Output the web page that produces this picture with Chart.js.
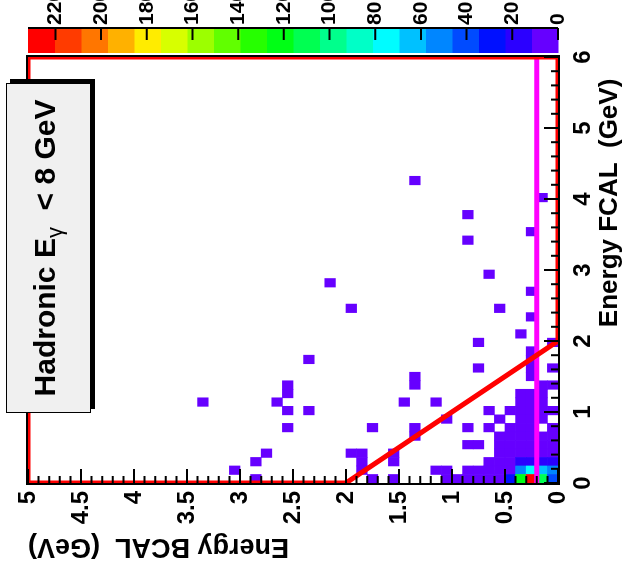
<!DOCTYPE html>
<html>
<head>
<meta charset="utf-8">
<title>Hadronic E gamma &lt; 8 GeV</title>
<script src="https://cdn.jsdelivr.net/npm/chart.js@4.4.1/dist/chart.umd.min.js"></script>
<style>
  html, body { margin: 0; padding: 0; background: #ffffff; }
  #page { position: relative; width: 625px; height: 570px; overflow: hidden; }
  /* plot is drawn upright, then the canvas is turned a quarter turn like the original figure */
  #bcalFcal { position: absolute; left: 0; top: 0; transform-origin: 0 0; transform: translate(0px, 570px) rotate(-90deg); }
</style>
</head>
<body>
<div id="page"><canvas id="bcalFcal" width="570" height="625"></canvas></div>
<script>
// ##################### DATA ##################

// BCAL bin lower edge (GeV) of every occupied column
const columnBcal = [3.3, 3.0, 2.8, 2.7, 2.6, 2.5, 2.3, 2.1, 1.9, 1.8, 1.7, 1.5, 1.4, 1.3, 1.1, 1.0, 0.9, 0.8, 0.7, 0.6, 0.5, 0.4, 0.3, 0.2, 0.1, 0.0];

// FCAL bin lower edges (GeV) of the filled cells in each column
const columnFcal = [
  [1.08],
  [0.12],
  [0.24, 0],
  [0.36],
  [1.08],
  [1.32, 1.2, 0.96, 0.72],
  [1.68, 0.96],
  [2.76],
  [2.4, 0.36],
  [0.36, 0.24, 0.12],
  [0.72, 0],
  [0.36, 0.24, 0],
  [1.08],
  [4.2, 1.44, 1.32, 0.72, 0.6],
  [1.08, 0.12],
  [0.84, 0.12, 0],
  [0],
  [3.72, 3.36, 0.72, 0.48, 0.12, 0],
  [1.92, 1.56, 0.48, 0.12, 0],
  [2.88, 0.96, 0.72, 0.24, 0.12, 0],
  [2.4, 0.84, 0.6, 0.48, 0.36, 0.24, 0.12, 0],
  [0.96, 0.72, 0.6, 0.48, 0.36, 0.24, 0.12, 0],
  [2.04, 1.2, 1.08, 0.96, 0.84, 0.72, 0.6, 0.48, 0.36, 0.24, 0.12, 0],
  [3.48, 2.64, 2.28, 1.8, 1.68, 1.56, 1.44, 1.2, 1.08, 0.96, 0.84, 0.72, 0.6, 0.48, 0.36, 0.24, 0.12, 0],
  [3.96, 1.32, 1.2, 1.08, 0.96, 0.84, 0.6, 0.48, 0.36, 0.24, 0.12, 0],
  [1.92, 1.56, 1.32, 0.96, 0.72, 0.6, 0.48, 0.36, 0.24, 0.12, 0]
];

// entries per cell, same layout as columnFcal
const columnCounts = [
  [1],
  [1],
  [1, 1],
  [1],
  [1],
  [1, 1, 1, 1],
  [1, 1],
  [1],
  [1, 1],
  [1, 1, 1],
  [1, 1],
  [1, 1, 1],
  [1],
  [1, 1, 1, 1, 1],
  [1, 1],
  [1, 2, 2],
  [2],
  [1, 1, 1, 1, 2, 3],
  [1, 1, 1, 3, 3],
  [1, 1, 1, 2, 3, 4],
  [1, 1, 1, 2, 2, 3, 4, 6],
  [1, 1, 2, 2, 2, 6, 8, 28],
  [1, 3, 3, 4, 4, 5, 5, 6, 8, 18, 52, 120],
  [1, 1, 1, 2, 2, 2, 2, 3, 3, 4, 4, 5, 6, 7, 9, 20, 75, 225],
  [1, 2, 2, 2, 3, 3, 4, 5, 7, 16, 64, 110],
  [1, 1, 2, 1, 2, 2, 3, 4, 15, 50, 40]
];

const bcalBinWidth = 0.1;
const fcalBinWidth = 0.12;

// colour scale
const zMax = 232;
const nLevels = 20;

// red cut contour (BCAL + FCAL > 2 GeV region) and magenta BCAL line
const cutFcal = [0, 0, 2, 6, 6, 0];
const cutBcal = [5, 2, 0, 0, 5, 5];
const vetoFcal = [0, 6];
const vetoBcal = [0.2, 0.2];

// ##################### CHART ##################

Chart.defaults.font.family = "'Liberation Sans', Arial, Helvetica, sans-serif";
Chart.defaults.font.weight = "bold";
Chart.defaults.color = "#000";

function levelColor(k) {
    return `hsl(${264 - k * 264 / (nLevels - 1)}, 100%, 50%)`;
}

function binColor(n) {
    return levelColor(Math.min(nLevels - 1, Math.floor(n * nLevels / zMax)));
}

const cells = [];
columnBcal.forEach((b, c) => {
    columnFcal[c].forEach((f, k) => {
        cells.push({ y: b + bcalBinWidth / 2, x: [f, f + fcalBinWidth], n: columnCounts[c][k] });
    });
});

// keep the frame where the layout padding puts it
function noLabelPadding(s) {
    s.paddingTop = 0;
    s.paddingBottom = 0;
    s.paddingLeft = 0;
    s.paddingRight = 0;
}

// ROOT style ticks pointing into the frame, plus the frame itself
const rootTicks = {
    id: "rootTicks",
    afterDatasetsDraw(chart) {
        const { ctx, chartArea: a, scales } = chart;
        ctx.save();
        ctx.strokeStyle = "#000";
        ctx.lineWidth = 2;
        ctx.beginPath();
        for (let k = 0; k <= 30; k++) {
            const px = scales.x.getPixelForValue(k * 0.2);
            ctx.moveTo(px, a.bottom);
            ctx.lineTo(px, a.bottom - (k % 5 === 0 ? 14 : 7));
        }
        for (let k = 0; k <= 50; k++) {
            const py = scales.y.getPixelForValue(k * 0.1);
            ctx.moveTo(a.left, py);
            ctx.lineTo(a.left + (k % 5 === 0 ? 14 : 7), py);
        }
        ctx.stroke();
        ctx.strokeRect(a.left - 1, a.top - 1, a.width + 2, a.height + 2);
        ctx.restore();
    }
};

// colour palette next to the frame, on the z scale
const colorBar = {
    id: "colorBar",
    afterDraw(chart) {
        const { ctx, scales: { z } } = chart;
        const left = z.left + 4, w = 25;
        ctx.save();
        for (let k = 0; k < nLevels; k++) {
            const p0 = z.getPixelForValue(k * zMax / nLevels);
            const p1 = z.getPixelForValue((k + 1) * zMax / nLevels);
            ctx.fillStyle = levelColor(k);
            ctx.fillRect(left, p1, w, p0 - p1 + 0.5);
        }
        ctx.strokeStyle = "#000";
        ctx.lineWidth = 2;
        ctx.beginPath();
        ctx.moveTo(left + w, z.top);
        ctx.lineTo(left + w, z.bottom);
        z.ticks.forEach(t => {
            const p = z.getPixelForValue(t.value);
            ctx.moveTo(left + w, p);
            ctx.lineTo(left + w - 12, p);
        });
        ctx.stroke();
        ctx.restore();
    }
};

// label box with drop shadow
const titleBox = {
    id: "titleBox",
    afterDraw(chart) {
        const ctx = chart.ctx;
        const bx = 157, by = 6, bw = 330, bh = 85;
        ctx.save();
        ctx.fillStyle = "#000";
        ctx.fillRect(bx + 4, by + 4, bw, bh);
        ctx.fillStyle = "#f0f0f0";
        ctx.fillRect(bx, by, bw, bh);
        ctx.strokeStyle = "#000";
        ctx.lineWidth = 1;
        ctx.strokeRect(bx + 0.5, by + 0.5, bw - 1, bh - 1);

        const big = "bold 30px 'Liberation Sans', Arial, sans-serif";
        const small = "22px 'Liberation Sans', Arial, sans-serif";
        const head = "Hadronic E", sub = "\u03b3", tail = "  < 8 GeV";
        ctx.font = big;
        const w1 = ctx.measureText(head).width, w3 = ctx.measureText(tail).width;
        ctx.font = small;
        const w2 = ctx.measureText(sub).width;
        let x = bx + (bw - w1 - w2 - w3) / 2;
        const y = by + bh / 2 - 2;
        ctx.fillStyle = "#000";
        ctx.textBaseline = "middle";
        ctx.font = big;
        ctx.fillText(head, x, y);
        x += w1;
        ctx.font = small;
        ctx.fillText(sub, x, y + 9);
        x += w2;
        ctx.font = big;
        ctx.fillText(tail, x, y);
        ctx.restore();
    }
};

new Chart(document.getElementById("bcalFcal"), {
    type: "bar",
    data: {
        datasets: [
            {
                type: "line", label: "cut",
                data: cutFcal.map((f, i) => ({ x: f, y: cutBcal[i] })),
                borderColor: "#ff0000", borderWidth: 5, pointRadius: 0, clip: 0, order: 0,
                xAxisID: "x", yAxisID: "y"
            },
            {
                type: "line", label: "BCAL line",
                data: vetoFcal.map((f, i) => ({ x: f, y: vetoBcal[i] })),
                borderColor: "#ff00ff", borderWidth: 5, pointRadius: 0, clip: 0, order: 1,
                xAxisID: "x", yAxisID: "y"
            },
            {
                type: "bar", label: "events",
                data: cells,
                backgroundColor: c => binColor(c.raw.n),
                borderWidth: 0, barPercentage: 1, categoryPercentage: 1, order: 2,
                xAxisID: "x", yAxisID: "y"
            }
        ]
    },
    options: {
        indexAxis: "y",
        responsive: false,
        animation: false,
        devicePixelRatio: 1,
        events: [],
        layout: { padding: { left: 0, right: 0, top: 28, bottom: 0 } },
        plugins: { legend: { display: false }, tooltip: { enabled: false } },
        scales: {
            x: {
                type: "linear", position: "bottom", min: 0, max: 6, offset: false,
                grid: { display: false, drawTicks: false }, border: { display: false },
                ticks: { stepSize: 1, padding: 11, maxRotation: 0, font: { size: 24 }, callback: v => String(v) },
                title: { display: true, text: "Energy FCAL  (GeV)   ", align: "end", font: { size: 26 }, padding: { top: 0, bottom: 0 } },
                afterFit: s => { s.height = 67; noLabelPadding(s); }
            },
            y: {
                type: "linear", position: "left", min: 0, max: 5, offset: false,
                grid: { display: false, drawTicks: false, offset: false }, border: { display: false },
                ticks: { stepSize: 0.5, padding: 8, autoSkip: false, font: { size: 24 }, callback: v => String(v) },
                title: { display: true, text: "Energy BCAL  (GeV)", align: "end", font: { size: 27 }, padding: { top: 7, bottom: 0 } },
                afterFit: s => { s.width = 87; noLabelPadding(s); }
            },
            z: {
                type: "linear", axis: "y", position: "right", min: 0, max: zMax, offset: false,
                grid: { display: false, drawTicks: false, offset: false }, border: { display: false },
                ticks: { stepSize: 20, includeBounds: false, padding: 32, autoSkip: false, font: { size: 21 }, callback: v => String(v) },
                afterFit: s => { s.width = 57; noLabelPadding(s); }
            }
        }
    },
    plugins: [rootTicks, colorBar, titleBox]
});
</script>
</body>
</html>
